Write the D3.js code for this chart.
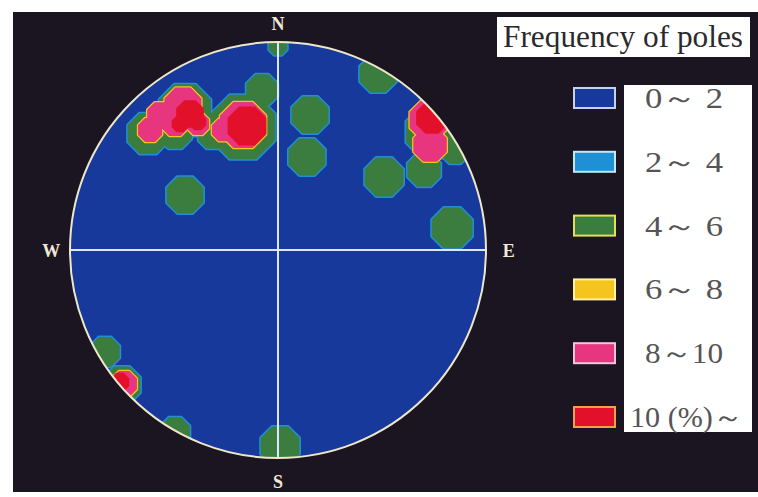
<!DOCTYPE html>
<html><head><meta charset="utf-8">
<script src="https://cdn.jsdelivr.net/npm/d3@7"></script>
<style>html,body{margin:0;padding:0;background:#fff;}svg{display:block;}</style>
</head><body>
<svg id="c" width="758" height="497"></svg>
<script>
// ---- data ----
const classLabels = ["0～ 2", "2～ 4", "4～ 6", "6～ 8", "8～10", "10 (%)～"];
const classColors = ["#17399b", "#1f8fd6", "#3b7d3e", "#f5c41e", "#e8357f", "#e3102c"];
const classBorders = ["#c9cff0", "#c4e6fb", "#e6de58", "#fff2a6", "#f6c4da", "#f2a04a"];
const directions = ["N", "E", "S", "W"];
// patches of each frequency class, in stereonet coordinates [x, y, radius] (unit circle)
const patches4to6 = [
  [-0.077, 0.769, 0.082], [0.000, 0.981, 0.048], [0.154, 0.649, 0.096],
  [0.139, 0.447, 0.096], [0.510, 0.351, 0.101], [0.837, 0.106, 0.106],
  [0.481, 0.846, 0.096], [0.702, 0.385, 0.087], [0.851, 0.481, 0.072],
  [-0.447, 0.264, 0.096], [-0.625, 0.560, 0.106], [-0.447, 0.672, 0.135],
  [-0.495, 0.567, 0.087], [-0.168, 0.591, 0.168], [-0.317, 0.553, 0.072],
  [-0.832, -0.490, 0.077], [-0.495, -0.875, 0.077], [0.010, -0.942, 0.101],
  [0.740, 0.567, 0.135], [-0.750, -0.649, 0.096]
];
const patches8to10 = [
  [-0.615, 0.577, 0.0625], [-0.457, 0.692, 0.096], [-0.495, 0.615, 0.072],
  [-0.567, 0.649, 0.067], [-0.385, 0.606, 0.058], [-0.168, 0.601, 0.120],
  [-0.264, 0.577, 0.058], [0.726, 0.625, 0.101], [0.731, 0.505, 0.087],
  [-0.740, -0.644, 0.067]
];
const patches10plus = [
  [-0.423, 0.654, 0.072], [-0.471, 0.606, 0.043], [-0.385, 0.615, 0.043],
  [-0.149, 0.596, 0.101], [0.740, 0.635, 0.082], [-0.760, -0.635, 0.048]
];

// ---- layout ----
const svg = d3.select("#c");
const cx = 278, cy = 250, R = 208;
const x = d3.scaleLinear().domain([-1, 1]).range([cx - R, cx + R]);
const y = d3.scaleLinear().domain([-1, 1]).range([cy + R, cy - R]);
const rs = d3.scaleLinear().domain([0, 1]).range([0, R]);

svg.append("rect").attr("x", 13).attr("y", 12).attr("width", 745).attr("height", 480).attr("fill", "#1b1521");

const defs = svg.append("defs");
defs.append("clipPath").attr("id", "disk").append("circle").attr("cx", cx).attr("cy", cy).attr("r", R);

svg.append("circle").attr("cx", cx).attr("cy", cy).attr("r", R).attr("fill", classColors[0]);

function octagon(d) {
  const px = x(d[0]), py = y(d[1]), r = rs(d[2]);
  const pts = d3.range(8).map(i => {
    const a = Math.PI / 8 + i * Math.PI / 4;
    return [px + r * Math.cos(a), py + r * Math.sin(a)];
  });
  return "M" + pts.map(p => p.join(",")).join("L") + "Z";
}
const g = svg.append("g").attr("clip-path", "url(#disk)");
function layer(data, fill, edge, w) {
  if (edge) g.append("g").selectAll("path").data(data).join("path")
    .attr("d", octagon).attr("fill", edge).attr("stroke", edge).attr("stroke-width", w).attr("stroke-linejoin", "round");
  g.append("g").selectAll("path").data(data).join("path").attr("d", octagon).attr("fill", fill);
}
layer(patches4to6, classColors[2], classColors[1], 3);
layer(patches8to10, classColors[4], classColors[3], 2.5);
layer(patches10plus, classColors[5], null, 0);

// cross lines & outline
svg.append("line").attr("x1", x(0)).attr("x2", x(0)).attr("y1", y(1)).attr("y2", y(-1)).attr("stroke", "#dfe7ff").attr("stroke-width", 2);
svg.append("line").attr("x1", x(-1)).attr("x2", x(1)).attr("y1", y(0)).attr("y2", y(0)).attr("stroke", "#dfe7ff").attr("stroke-width", 2);
svg.append("circle").attr("cx", cx).attr("cy", cy).attr("r", R).attr("fill", "none").attr("stroke", "#efe7c9").attr("stroke-width", 2);

// direction labels
const dirPos = { N: [0, 1.09], E: [1.11, 0], S: [0, -1.11], W: [-1.09, 0] };
svg.append("g").selectAll("text").data(directions).join("text")
  .attr("x", d => x(dirPos[d][0]))
  .attr("y", d => y(dirPos[d][1]) + 7)
  .attr("text-anchor", "middle")
  .attr("font-family", "Liberation Serif, serif").attr("font-weight", "bold").attr("font-size", 18)
  .attr("fill", "#f1e8d6").text(d => d);

// legend title
svg.append("rect").attr("x", 497).attr("y", 17).attr("width", 253).attr("height", 40).attr("fill", "#fff");
svg.append("text").attr("x", 503).attr("y", 47).attr("font-family", "Liberation Serif, serif").attr("font-size", 31)
  .attr("fill", "#2a2a2a").attr("textLength", 240).attr("lengthAdjust", "spacingAndGlyphs").text("Frequency of poles");

// legend box
svg.append("rect").attr("x", 624).attr("y", 85).attr("width", 128).attr("height", 347).attr("fill", "#fff");
const ly = d3.scalePoint().domain(classLabels).range([98, 417]);
const items = svg.append("g").selectAll("g").data(classLabels).join("g");
items.append("rect").attr("x", 574).attr("y", d => ly(d) - 10).attr("width", 41).attr("height", 20)
  .attr("fill", (d, i) => classColors[i]).attr("stroke", (d, i) => classBorders[i]).attr("stroke-width", 2);
items.append("text")
  .attr("x", (d, i) => i === 5 ? 630 : 645)
  .attr("y", d => ly(d) + 10)
  .attr("font-family", "Liberation Serif, serif").attr("font-size", 29).attr("fill", "#555")
  .attr("textLength", (d, i) => i === 5 ? 113 : 78).attr("lengthAdjust", "spacingAndGlyphs")
  .text(d => d);
</script>
</body></html>
